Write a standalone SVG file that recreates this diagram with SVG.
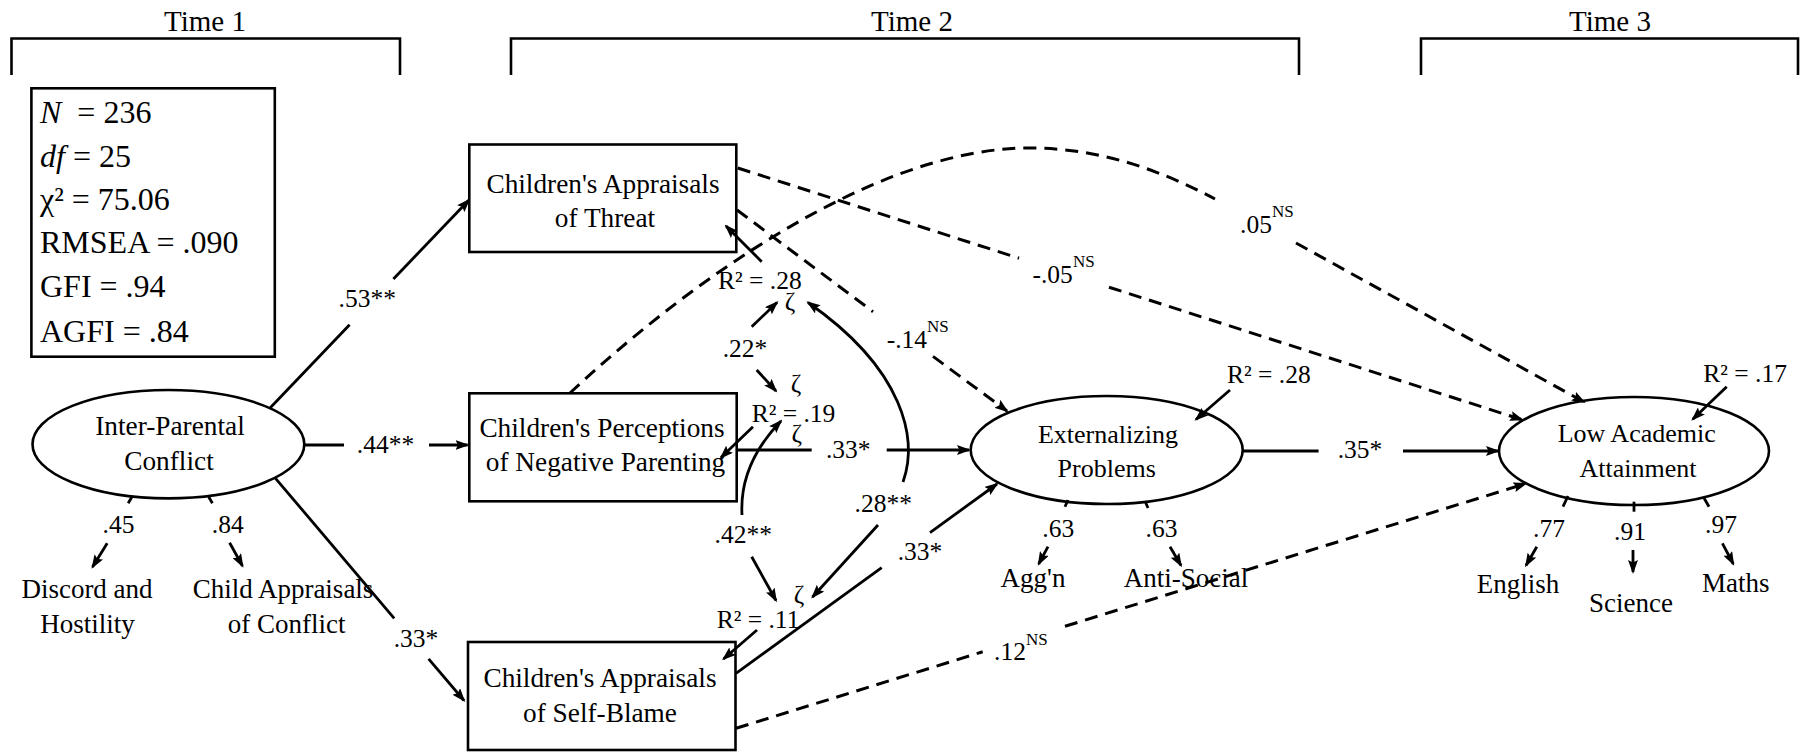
<svg xmlns="http://www.w3.org/2000/svg" width="1805" height="752" viewBox="0 0 1805 752">
<defs>
<style>
text{font-family:"Liberation Serif","Times New Roman",serif;fill:#000}
.t{font-size:29px;text-anchor:middle}
.st{font-size:32px}
.nd{font-size:27.3px;text-anchor:middle}
.ne{font-size:26px;text-anchor:middle}
.ind{font-size:27px;text-anchor:middle}
.lb{font-size:25.5px;text-anchor:middle}
.ls{font-size:25.5px}
.sup{font-size:17px}
.box{fill:none;stroke:#000;stroke-width:2.6}
.ln{fill:none;stroke:#000;stroke-width:2.8}
.ds{fill:none;stroke:#000;stroke-width:3;stroke-dasharray:13 8}
.br{fill:none;stroke:#000;stroke-width:2.6}
.ar{marker-end:url(#ah)}
</style>
<marker id="ah" viewBox="0 0 14 10" refX="12" refY="5" markerWidth="14" markerHeight="10" markerUnits="userSpaceOnUse" orient="auto">
<path d="M0,0 L14,5 L0,10 L2.5,5 Z" fill="#000" stroke="none"/>
</marker>
</defs>
<rect width="1805" height="752" fill="#fff"/>

<g id="time-brackets">
<path class="br" d="M11.5,75 V38.5 H400 V75"/>
<path class="br" d="M511,75 V38.5 H1299 V75"/>
<path class="br" d="M1421,75 V38.5 H1798 V75"/>
<text class="t" x="205" y="31">Time 1</text>
<text class="t" x="912" y="31">Time 2</text>
<text class="t" x="1610" y="31">Time 3</text>
</g>

<g id="fit-stats">
<rect class="box" x="31.4" y="88.3" width="243.4" height="268.4"/>
<text class="st" x="40" y="123.3"><tspan font-style="italic">N</tspan><tspan dx="8"> = 236</tspan></text>
<text class="st" x="40" y="166.7"><tspan font-style="italic">df</tspan> = 25</text>
<text class="st" x="40" y="210">χ² = 75.06</text>
<text class="st" x="40" y="253.3">RMSEA = .090</text>
<text class="st" x="40" y="296.7">GFI = .94</text>
<text class="st" x="40" y="341.7">AGFI = .84</text>
</g>

<g id="node-ipc">
<ellipse class="box" cx="168.4" cy="444.2" rx="135.9" ry="54.2"/>
<text class="nd" x="170" y="435">Inter-Parental</text>
<text class="nd" x="169" y="470">Conflict</text>
</g>
<g id="node-threat">
<rect class="box" x="469.3" y="144.5" width="267" height="107.5"/>
<text class="nd" x="603" y="193.3">Children's Appraisals</text>
<text class="nd" x="605" y="226.7">of Threat</text>
</g>
<g id="node-parenting">
<rect class="box" x="469.3" y="393.3" width="267.4" height="108"/>
<text class="nd" x="602" y="437">Children's Perceptions</text>
<text class="nd" x="605.5" y="471">of Negative Parenting</text>
</g>
<g id="node-selfblame">
<rect class="box" x="468" y="642" width="267.5" height="108"/>
<text class="nd" x="600" y="687">Children's Appraisals</text>
<text class="nd" x="600" y="722">of Self-Blame</text>
</g>
<g id="node-externalizing">
<ellipse class="box" cx="1106.7" cy="450" rx="136" ry="54"/>
<text class="ne" x="1108" y="443.3">Externalizing</text>
<text class="ne" x="1106.7" y="477.3">Problems</text>
</g>
<g id="node-academic">
<ellipse class="box" cx="1634" cy="451" rx="135" ry="54"/>
<text class="ne" x="1636.7" y="441.7">Low Academic</text>
<text class="ne" x="1638" y="477.3">Attainment</text>
</g>
<g id="node-discord">
<text class="ind" x="87" y="598.3">Discord and</text>
<text class="ind" x="87.6" y="633.3">Hostility</text>
</g>
<g id="node-childappraisals">
<text class="ind" x="283" y="598.3">Child Appraisals</text>
<text class="ind" x="286.6" y="633.3">of Conflict</text>
</g>
<g id="node-aggn"><text class="ind" x="1033" y="586.7">Agg'n</text></g>
<g id="node-antisocial"><text class="ind" x="1186" y="586.7">Anti-Social</text></g>
<g id="node-english"><text class="ind" x="1518" y="593.3">English</text></g>
<g id="node-science"><text class="ind" x="1631" y="611.7">Science</text></g>
<g id="node-maths"><text class="ind" x="1735.7" y="591.7">Maths</text></g>

<g id="connectors">
<!-- solid paths -->
<path class="ln" d="M269.8,408.3 L349.6,324.8"/>
<path class="ln ar" d="M393.4,279 L469,200"/>
<path class="ln" d="M304,445 L344,445"/>
<path class="ln ar" d="M429,445 L467.5,445"/>
<path class="ln" d="M275.5,478.3 L394.2,618.3"/>
<path class="ln ar" d="M428.6,658.8 L464,700.5"/>
<path class="ln" d="M736.7,450 L811.7,450"/>
<path class="ln ar" d="M886.7,450 L969,450"/>
<path class="ln" d="M736,673.3 L881.7,567.7"/>
<path class="ln ar" d="M930,532.6 L997,484"/>
<path class="ln" d="M1242.7,451 L1318.6,451"/>
<path class="ln ar" d="M1403,451 L1498,451"/>
<!-- dashed paths -->
<path class="ds" d="M737.8,168 L1019,258.2"/>
<path class="ds ar" d="M1109,287.2 L1522,419.7"/>
<path class="ds" d="M737,210 L873,311.7"/>
<path class="ds ar" d="M933,356.4 L1007,411"/>
<path class="ds" d="M570,393 C680,290 870,148 1029,148 C1100,148 1160,170 1215,199"/>
<path class="ds ar" d="M1296,243 L1584,402"/>
<path class="ds" d="M736,728.3 L982.7,651.8"/>
<path class="ds ar" d="M1065,626.3 L1525.5,483.7"/>
<!-- disturbance / R2 arrows -->
<path class="ln ar" d="M761.7,261.7 L726,226"/>
<path class="ln ar" d="M751.7,326.7 L777,302.5"/>
<path class="ln ar" d="M756.7,370 L776,391"/>
<path class="ln ar" d="M753,426.7 L721,457.5"/>
<path class="ln ar" d="M742,515 C740,480 755,448 781,421"/>
<path class="ln ar" d="M751.7,556.7 L776,600.5"/>
<path class="ln ar" d="M903,482 C918,440 905,370 808,302.5"/>
<path class="ln ar" d="M878,525 L812.5,597"/>
<path class="ln ar" d="M757,630 L723.5,659"/>
<path class="ln ar" d="M1230,390 L1196,419.5"/>
<path class="ln ar" d="M1726.7,386.7 L1692.7,419.3"/>
<!-- indicator loadings -->
<path class="ln" d="M132,496.7 L128.2,503.3"/>
<path class="ln ar" d="M107.2,543.3 L92.5,567"/>
<path class="ln" d="M208.6,496.7 L212.4,503.3"/>
<path class="ln ar" d="M229.6,542.7 L242.5,566"/>
<path class="ln" d="M1068,500 L1065,506.7"/>
<path class="ln ar" d="M1048,546.7 L1038.7,564"/>
<path class="ln" d="M1145,501 L1148,508"/>
<path class="ln ar" d="M1170,546.7 L1181,565.5"/>
<path class="ln" d="M1568,496 L1563,506.7"/>
<path class="ln ar" d="M1536.8,546.7 L1526,565.5"/>
<path class="ln" d="M1634,501.7 L1634,511.7"/>
<path class="ln ar" d="M1633,550 L1633,572"/>
<path class="ln" d="M1704,498 L1709,506.7"/>
<path class="ln ar" d="M1722.4,543.3 L1733.3,564"/>
</g>

<g id="labels">
<text class="lb" x="367.3" y="306.7">.53**</text>
<text class="lb" x="385.5" y="453.3">.44**</text>
<text class="lb" x="416" y="646.7">.33*</text>
<text class="lb" x="848.3" y="458.3">.33*</text>
<text class="lb" x="920" y="560">.33*</text>
<text class="lb" x="1360" y="458">.35*</text>
<text class="ls" x="1032.5" y="283.3">-.05<tspan class="sup" dy="-16">NS</tspan></text>
<text class="ls" x="1240" y="233.3">.05<tspan class="sup" dy="-16">NS</tspan></text>
<text class="ls" x="886.7" y="348.3">-.14<tspan class="sup" dy="-16">NS</tspan></text>
<text class="ls" x="994" y="660">.12<tspan class="sup" dy="-15">NS</tspan></text>
<text class="lb" x="745" y="356.7">.22*</text>
<text class="lb" x="743.3" y="543.3">.42**</text>
<text class="lb" x="883.3" y="511.7">.28**</text>
<text class="ls" x="718" y="289.3">R² = .28</text>
<text class="lb" x="790" y="310">ζ</text>
<text class="lb" x="796" y="391.5">ζ</text>
<text class="ls" x="751.7" y="421.7">R² = .19</text>
<text class="lb" x="796.7" y="441.5">ζ</text>
<text class="lb" x="799" y="603">ζ</text>
<text class="ls" x="716.7" y="628.3">R² = .11</text>
<text class="ls" x="1227" y="383.3">R² = .28</text>
<text class="ls" x="1703.3" y="381.7">R² = .17</text>
<text class="lb" x="118.5" y="533.3">.45</text>
<text class="lb" x="227.7" y="533.3">.84</text>
<text class="lb" x="1058.3" y="536.7">.63</text>
<text class="lb" x="1161.5" y="536.7">.63</text>
<text class="lb" x="1549" y="537">.77</text>
<text class="lb" x="1630" y="540">.91</text>
<text class="lb" x="1721" y="533">.97</text>
</g>
</svg>
